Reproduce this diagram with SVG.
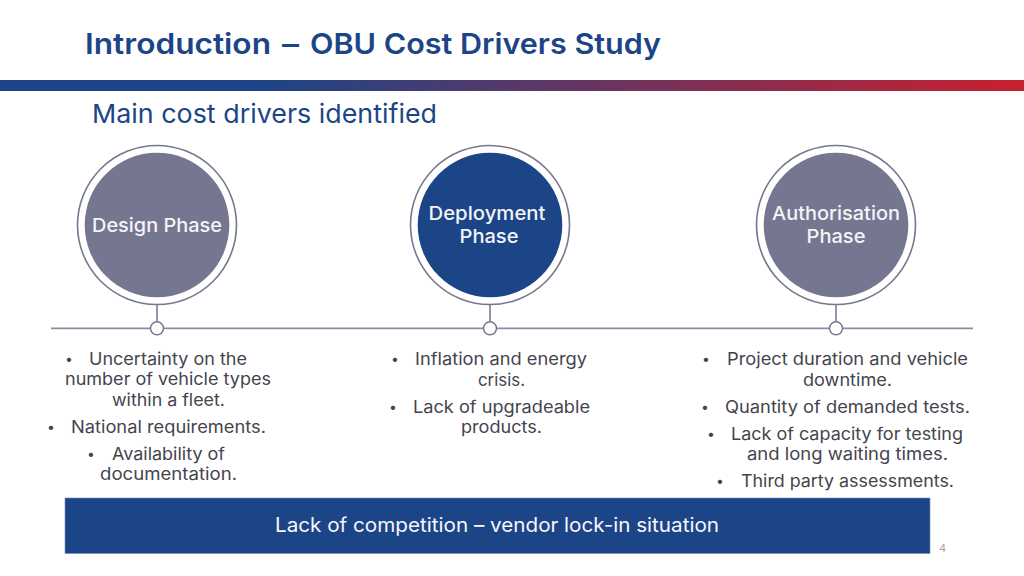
<svg xmlns="http://www.w3.org/2000/svg" width="1024" height="576" viewBox="0 0 1024 576">
<style>
text{font-family:"Inter","Liberation Sans",sans-serif}
.title{font-size:29px;font-weight:600;fill:#1c4587}
.sub{font-size:26px;fill:#1c4587}
.ph{font-size:19px;font-weight:500;fill:#f4f4f8;text-anchor:middle}
.b{font-size:17px;fill:#44444e}
.d{font-size:14px;fill:#44444e}
.ring{fill:#fff;stroke:#76768f;stroke-width:1.6}
.gr{fill:#75768f}
.bl{fill:#1c4587}
.ln{stroke:#8a8aa0;stroke-width:1.8;fill:none}
.dot{fill:#fff;stroke:#76768f;stroke-width:1.4}
</style>
<defs><linearGradient id="g" x1="0" x2="1" y1="0" y2="0"><stop offset="0" stop-color="#1c4587"/><stop offset=".25" stop-color="#1c4587"/><stop offset="1" stop-color="#c8202f"/></linearGradient></defs>
<rect x="0" y="80" width="1024" height="11" fill="url(#g)"/>
<text class="title" x="85" y="54" textLength="186" lengthAdjust="spacingAndGlyphs">Introduction</text>
<text class="title" x="282" y="54" textLength="17" lengthAdjust="spacingAndGlyphs">–</text>
<text class="title" x="310" y="54" textLength="351" lengthAdjust="spacingAndGlyphs">OBU Cost Drivers Study</text>
<text class="sub" x="92" y="123" textLength="345" lengthAdjust="spacingAndGlyphs">Main cost drivers identified</text>
<g id="connectors">
<path class="ln" d="M51 328.300H973M157 305V321M490 305V321M836 305V321"/>
<circle class="dot" cx="157" cy="328.300" r="6.500"/><circle class="dot" cx="490" cy="328.300" r="6.500"/><circle class="dot" cx="836" cy="328.300" r="6.500"/>
</g>
<g id="design"><circle class="ring" cx="157" cy="225" r="79.500"/><circle class="gr" cx="157" cy="225" r="72.300"/>
<text class="ph" x="157" y="232" textLength="130" lengthAdjust="spacingAndGlyphs">Design Phase</text></g>
<g id="deployment"><circle class="ring" cx="490" cy="225" r="79.500"/><circle class="bl" cx="490" cy="225" r="72.300"/>
<text class="ph" x="487" y="220" textLength="117" lengthAdjust="spacingAndGlyphs">Deployment</text><text class="ph" x="489" y="243" textLength="59" lengthAdjust="spacingAndGlyphs">Phase</text></g>
<g id="authorisation"><circle class="ring" cx="836" cy="225" r="79.500"/><circle class="gr" cx="836" cy="225" r="72.300"/>
<text class="ph" x="836" y="220" textLength="128" lengthAdjust="spacingAndGlyphs">Authorisation</text><text class="ph" x="836" y="243" textLength="59" lengthAdjust="spacingAndGlyphs">Phase</text></g>
<g id="design-list">
<text class="d" x="65" y="364">•</text><text class="b" x="89" y="364.500" textLength="158" lengthAdjust="spacingAndGlyphs">Uncertainty on the</text>
<text class="b" x="65" y="384.500" textLength="206" lengthAdjust="spacingAndGlyphs">number of vehicle types</text>
<text class="b" x="112" y="405.500" textLength="113" lengthAdjust="spacingAndGlyphs">within a fleet.</text>
<text class="d" x="47" y="432">•</text><text class="b" x="71" y="432.500" textLength="195" lengthAdjust="spacingAndGlyphs">National requirements.</text>
<text class="d" x="87" y="459">•</text><text class="b" x="112" y="459.500" textLength="113" lengthAdjust="spacingAndGlyphs">Availability of</text>
<text class="b" x="100" y="479.500" textLength="137" lengthAdjust="spacingAndGlyphs">documentation.</text>
</g>
<g id="deployment-list">
<text class="d" x="391" y="364">•</text><text class="b" x="415" y="364.500" textLength="172" lengthAdjust="spacingAndGlyphs">Inflation and energy</text>
<text class="b" x="478" y="385.500" textLength="47" lengthAdjust="spacingAndGlyphs">crisis.</text>
<text class="d" x="389" y="412">•</text><text class="b" x="413" y="412.500" textLength="177" lengthAdjust="spacingAndGlyphs">Lack of upgradeable</text>
<text class="b" x="461" y="432.500" textLength="81" lengthAdjust="spacingAndGlyphs">products.</text>
</g>
<g id="authorisation-list">
<text class="d" x="702" y="364">•</text><text class="b" x="727" y="364.500" textLength="241" lengthAdjust="spacingAndGlyphs">Project duration and vehicle</text>
<text class="b" x="803" y="385.500" textLength="89" lengthAdjust="spacingAndGlyphs">downtime.</text>
<text class="d" x="701" y="412">•</text><text class="b" x="725" y="412.500" textLength="245" lengthAdjust="spacingAndGlyphs">Quantity of demanded tests.</text>
<text class="d" x="707" y="439">•</text><text class="b" x="731" y="439.500" textLength="232" lengthAdjust="spacingAndGlyphs">Lack of capacity for testing</text>
<text class="b" x="747" y="459.500" textLength="201" lengthAdjust="spacingAndGlyphs">and long waiting times.</text>
<text class="d" x="716" y="486">•</text><text class="b" x="741" y="486.500" textLength="213" lengthAdjust="spacingAndGlyphs">Third party assessments.</text>
</g>
<g id="banner"><rect x="65" y="498" width="865" height="55.500" fill="#1c4587" stroke="#6f8fbd" stroke-width=".6"/>
<text x="497" y="532" text-anchor="middle" font-size="20" font-weight="400" fill="#f6f7fb" textLength="444" lengthAdjust="spacingAndGlyphs">Lack of competition – vendor lock-in situation</text></g>
<text x="939" y="552" font-size="11" fill="#a3a3ad">4</text>
</svg>
